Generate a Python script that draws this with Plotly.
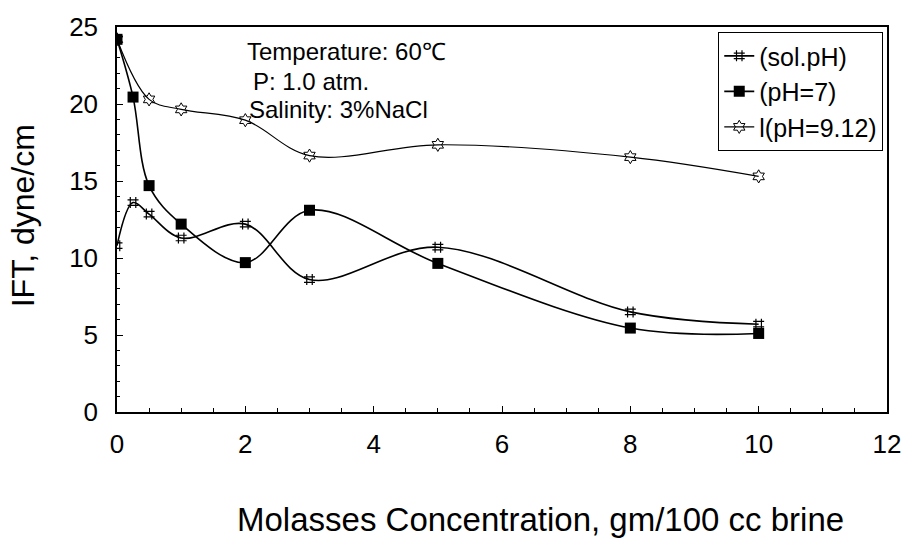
import plotly.graph_objects as go

# Data
x_sol = [0, 0.25, 0.5, 1, 2, 3, 5, 8, 10]
y_sol = [10.8, 13.6, 12.85, 11.3, 12.2, 8.6, 10.7, 6.5, 5.7]

x_ph7 = [0, 0.25, 0.5, 1, 2, 3, 5, 8, 10]
y_ph7 = [24.2, 20.45, 14.7, 12.2, 9.7, 13.1, 9.65, 5.45, 5.1]

x_ph912 = [0, 0.5, 1, 2, 3, 5, 8, 10]
y_ph912 = [24.2, 20.3, 19.65, 18.95, 16.65, 17.35, 16.55, 15.3]

names = ["(sol.pH)", "(pH=7)", "l(pH=9.12)"]
notes = ["Temperature: 60℃", "P: 1.0 atm.", "Salinity: 3%NaCl"]
x_title = "Molasses Concentration, gm/100 cc brine"
y_title = "IFT, dyne/cm"

FONT = "Liberation Sans, Arial, Helvetica, sans-serif"

fig = go.Figure()
fig.add_trace(go.Scatter(
    x=x_sol, y=y_sol, name=names[0], mode="lines+markers",
    line=dict(color="black", width=1.6, shape="spline", smoothing=1),
    marker=dict(symbol="hash-open", size=11, color="black", line=dict(width=1.2, color="black")),
))
fig.add_trace(go.Scatter(
    x=x_ph7, y=y_ph7, name=names[1], mode="lines+markers",
    line=dict(color="black", width=1.6, shape="spline", smoothing=1),
    marker=dict(symbol="square", size=11, color="black"),
))
fig.add_trace(go.Scatter(
    x=x_ph912, y=y_ph912, name=names[2], mode="lines+markers",
    line=dict(color="black", width=1.2, shape="spline", smoothing=1),
    marker=dict(symbol="hexagram-open", size=10, color="black", line=dict(width=1, color="black")),
))

L, R, T, B = 117, 16, 19, 136
PW = 913 - L - R
PH = 548 - T - B

fig.update_layout(
    width=913, height=548,
    margin=dict(l=L, r=R, t=T, b=B),
    paper_bgcolor="white", plot_bgcolor="white",
    font=dict(family=FONT, color="black", size=22),
    showlegend=True,
    legend=dict(
        x=(893 - L) / PW, y=(548 - B - 24) / PH, xanchor="right", yanchor="top",
        bgcolor="white", bordercolor="black", borderwidth=1.2,
        font=dict(size=25, family=FONT, color="black"),
        tracegroupgap=0,
    ),
)
fig.update_xaxes(
    range=[0, 12], dtick=2, tick0=0,
    showline=True, linecolor="black", linewidth=1.5, mirror=True,
    showgrid=False, zeroline=False,
    ticks="inside", ticklen=6, tickcolor="black",
    minor=dict(dtick=0.5, ticks="inside", ticklen=4, tickcolor="black"),
    tickfont=dict(size=26, family=FONT, color="black"),
    ticklabelstandoff=8,
)
fig.update_yaxes(
    range=[0, 25], dtick=5, tick0=0,
    showline=True, linecolor="black", linewidth=1.5, mirror=True,
    showgrid=False, zeroline=False,
    ticks="inside", ticklen=6, tickcolor="black",
    minor=dict(dtick=1, ticks="inside", ticklen=3, tickcolor="black"),
    tickfont=dict(size=26, family=FONT, color="black"),
    ticklabelstandoff=12,
)

def px(xp):
    return (xp - L) / PW

def py(yp):
    return (548 - B - yp) / PH

ann = []
ann.append(dict(text=notes[0], x=px(247), y=py(44), xref="paper", yref="paper",
                xanchor="left", yanchor="middle", showarrow=False, font=dict(size=24, family=FONT)))
ann.append(dict(text=notes[1], x=px(253), y=py(75), xref="paper", yref="paper",
                xanchor="left", yanchor="middle", showarrow=False, font=dict(size=24, family=FONT)))
ann.append(dict(text=notes[2], x=px(249), y=py(103), xref="paper", yref="paper",
                xanchor="left", yanchor="middle", showarrow=False, font=dict(size=24, family=FONT)))
ann.append(dict(text=x_title, x=px(546), y=py(522), xref="paper", yref="paper",
                xanchor="center", yanchor="middle", showarrow=False, font=dict(size=33, family=FONT)))
ann.append(dict(text=y_title, x=px(22), y=py(212), xref="paper", yref="paper",
                xanchor="center", yanchor="middle", textangle=-90, showarrow=False,
                font=dict(size=32, family=FONT)))
fig.update_layout(annotations=ann)

fig.write_html("out.html")
